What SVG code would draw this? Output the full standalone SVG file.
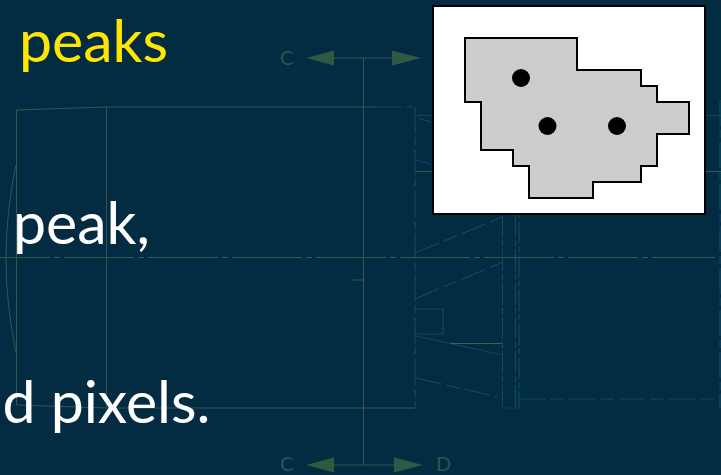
<svg xmlns="http://www.w3.org/2000/svg" width="721" height="475" viewBox="0 0 721 475">
<style>
.g{fill:none;stroke:#2f5a50;stroke-width:1}
.b{fill:none;stroke:#0e4a68;stroke-width:1.2}
.d{stroke-dasharray:26 4 8 4}
.a{fill:#2f5a42;stroke:none}
.l{font-family:Lato,"Noto Sans",sans-serif;font-size:20px;fill:#2b5550}
.t{font-family:Lato,"Noto Sans",sans-serif;font-size:59px}
</style>
<rect width="721" height="475" fill="#032b41"/>
<g id="drawing">
<path class="g" d="M16.500 110L106.500 107H375M16.500 110V405L106.500 408H415M106.500 107V408M363.500 58V465M353 280H363M16 165Q-4 258 16 352"/>
<path class="g" d="M0 257.500H715" stroke-dasharray="70 4 6 4" stroke-dashoffset="20"/>
<path class="g" d="M334 58H392M334 465H394M416 171.500H433M706 171.500H721"/>
<path class="a" d="M306 58L334 50.500V65.500ZM421 58L392 50.500V65.500ZM306 465L334 457.500V472.500ZM423 465L394 457.500V472.500Z"/>
<path class="b d" d="M375 107H415M415 107V408M375 408H415M720 100V408"/>
<path class="b" d="M416 115.500H433M418 118L431 122M416 160L431 164M707 115.500H721"/>
<path class="b" d="M415 253L502 217M415 299L503 262M416 378L498 397M519 399H716" stroke-dasharray="26 5 14 5"/>
<path class="b" d="M415 309H443V334H415M416 336L503 355"/>
<path d="M450 343.500H503" fill="none" stroke="#2f6a4a"/>
<path class="b" d="M502.500 215V408H519V215M515.500 215V408" stroke-dasharray="22 3 6 3"/>
<text class="l" x="280" y="65">C</text>
<text class="l" x="280" y="471">C</text>
<text class="l" x="436" y="471">D</text>
</g>
<g id="captions">
<text class="t" x="19" y="62" fill="#ffe600">peaks</text>
<text class="t" x="13" y="244" fill="#fff">peak,</text>
<text class="t" x="2.500" y="423" fill="#fff">d pixels.</text>
</g>
<g id="inset">
<rect x="433" y="6" width="272" height="208" fill="#fff" stroke="#000" stroke-width="2"/>
<path d="M465 38H577V70H641V86H657V102H689V134H657V166H641V182H593V198H529V166H513V150H481V102H465Z" fill="#ccc" stroke="#000" stroke-width="2"/>
<circle cx="521" cy="78" r="9"/>
<circle cx="547.500" cy="126" r="9"/>
<circle cx="617" cy="126" r="9"/>
</g>
</svg>
